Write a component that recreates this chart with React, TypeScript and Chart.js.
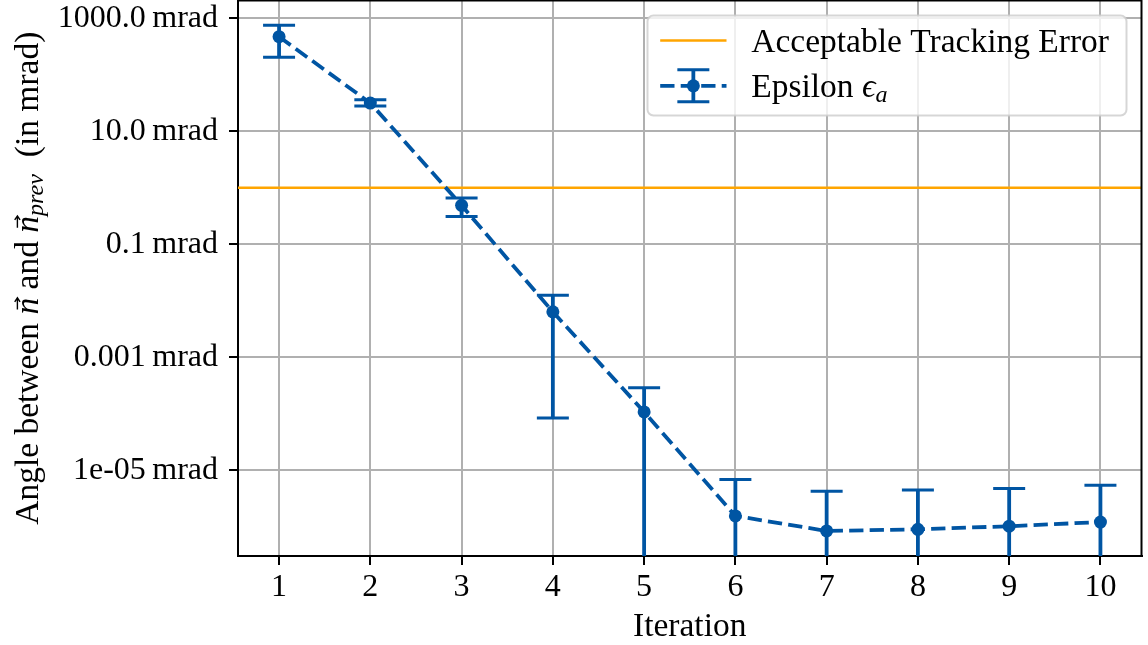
import React, { useEffect, useRef } from 'react';
import { Chart, registerables } from 'chart.js';

Chart.register(...registerables);

// ---- data ----
const iterations = [1, 2, 3, 4, 5, 6, 7, 8, 9, 10];
const epsilon = [472, 31.6, 0.488, 0.00636, 1.077e-4, 1.55e-6, 8.41e-7, 9.0e-7, 1.02e-6, 1.21e-6];
const errUpper = [751, 36.1, 0.656, 0.01256, 2.87e-4, 6.84e-6, 4.25e-6, 4.48e-6, 4.74e-6, 5.42e-6];
// 0 means the lower bound falls below zero (clipped at the axis bottom on a log scale)
const errLower = [204, 28.0, 0.311, 8.43e-5, 0, 0, 0, 0, 0, 0];
const thresholdValue = 1.0;
const yTicks = [1000, 10, 0.1, 0.001, 1e-5];
const yTickLabels = ['1000.0\u2009mrad', '10.0\u2009mrad', '0.1\u2009mrad', '0.001\u2009mrad', '1e-05\u2009mrad'];
const xRange = [0.55, 10.45];
const yRange = [3.03e-7, 2065];
const legendLabels = ['Acceptable Tracking Error', 'Epsilon '];

const BLUE = '#0055a3';
const ORANGE = '#ffa500';
const GRID = '#b0b0b0';
const FAMILY = '"Liberation Serif", "DejaVu Serif", serif';
const FS_TICK = 32;
const FS = 33.5;
const SHIFT = 6; // canvas is shifted up by this many px (Chart.js reserves room for point radius)
const W = 1148;
const H = 645 + SHIFT;

type Seg = { text: string; italic?: boolean; sub?: boolean; arrow?: boolean };

function drawRich(ctx: CanvasRenderingContext2D, segs: Seg[], x0: number, baseline: number, size: number, center: boolean) {
  const fontFor = (s: Seg) => `${s.italic ? 'italic ' : ''}${s.sub ? size * 0.72 : size}px ${FAMILY}`;
  const widths = segs.map((s) => {
    ctx.font = fontFor(s);
    return ctx.measureText(s.text).width;
  });
  const total = widths.reduce((a, b) => a + b, 0);
  let x = center ? x0 - total / 2 : x0;
  ctx.textAlign = 'left';
  ctx.textBaseline = 'alphabetic';
  segs.forEach((s, i) => {
    ctx.font = fontFor(s);
    ctx.fillText(s.text, x, baseline + (s.sub ? size * 0.16 : 0));
    if (s.arrow) {
      const w = widths[i];
      const ax0 = x + w * 0.3;
      const ax1 = x + w * 1.0;
      const ay = baseline - size * 0.6;
      ctx.save();
      ctx.strokeStyle = ctx.fillStyle as string;
      ctx.lineWidth = 1.4;
      ctx.beginPath();
      ctx.moveTo(ax0, ay);
      ctx.lineTo(ax1, ay);
      ctx.moveTo(ax1 - size * 0.12, ay - size * 0.08);
      ctx.lineTo(ax1, ay);
      ctx.lineTo(ax1 - size * 0.12, ay + size * 0.08);
      ctx.stroke();
      ctx.restore();
    }
    x += widths[i];
  });
}

const customPlugin = {
  id: 'custom',
  beforeDatasetsDraw(chart: any) {
    const { ctx, chartArea: ca, scales } = chart;
    const xs = scales.x;
    const ys = scales.y;
    ctx.save();
    ctx.beginPath();
    ctx.rect(ca.left, ca.top, ca.right - ca.left, ca.bottom - ca.top);
    ctx.clip();
    // threshold line
    const ty = ys.getPixelForValue(thresholdValue);
    ctx.strokeStyle = ORANGE;
    ctx.lineWidth = 2.6;
    ctx.beginPath();
    ctx.moveTo(ca.left, ty);
    ctx.lineTo(ca.right, ty);
    ctx.stroke();
    // error bars
    ctx.strokeStyle = BLUE;
    const cap = 16;
    iterations.forEach((it, i) => {
      const px = xs.getPixelForValue(it);
      const pTop = ys.getPixelForValue(errUpper[i]);
      const pBot = errLower[i] > 0 ? ys.getPixelForValue(errLower[i]) : ca.bottom + 10;
      ctx.lineWidth = 3.8;
      ctx.beginPath();
      ctx.moveTo(px, pTop);
      ctx.lineTo(px, pBot);
      ctx.stroke();
      ctx.lineWidth = 3;
      ctx.beginPath();
      ctx.moveTo(px - cap, pTop);
      ctx.lineTo(px + cap, pTop);
      if (errLower[i] > 0) {
        ctx.moveTo(px - cap, pBot);
        ctx.lineTo(px + cap, pBot);
      }
      ctx.stroke();
    });
    ctx.restore();
  },
  afterDatasetsDraw(chart: any) {
    const { ctx, chartArea: ca } = chart;
    ctx.save();
    ctx.strokeStyle = '#000';
    ctx.lineWidth = 2;
    ctx.beginPath();
    ctx.moveTo(ca.left, ca.top);
    ctx.lineTo(ca.right, ca.top);
    ctx.lineTo(ca.right, ca.bottom);
    ctx.stroke();
    ctx.restore();
  },
  afterDraw(chart: any) {
    const { ctx, chartArea: ca } = chart;
    ctx.save();
    // legend
    const bw = 479;
    const bh = 100;
    const bx = ca.right - 15 - bw;
    const by = ca.top + 15;
    ctx.beginPath();
    (ctx as any).roundRect(bx, by, bw, bh, 6);
    ctx.fillStyle = 'rgba(255,255,255,0.8)';
    ctx.fill();
    ctx.strokeStyle = 'rgba(204,204,204,0.8)';
    ctx.lineWidth = 2;
    ctx.stroke();
    const hx0 = bx + 12.7;
    const hx1 = bx + 79;
    const r1 = by + 25;
    ctx.strokeStyle = ORANGE;
    ctx.lineWidth = 2.6;
    ctx.beginPath();
    ctx.moveTo(hx0, r1);
    ctx.lineTo(hx1, r1);
    ctx.stroke();
    const r2 = by + 70.3;
    ctx.strokeStyle = BLUE;
    ctx.lineWidth = 3.8;
    ctx.setLineDash([14.3, 6.2]);
    ctx.beginPath();
    ctx.moveTo(hx0, r2);
    ctx.lineTo(hx1, r2);
    ctx.stroke();
    ctx.setLineDash([]);
    const mx = (hx0 + hx1) / 2;
    ctx.beginPath();
    ctx.moveTo(mx, r2 - 16);
    ctx.lineTo(mx, r2 + 16);
    ctx.stroke();
    ctx.lineWidth = 3;
    ctx.beginPath();
    ctx.moveTo(mx - 16, r2 - 16);
    ctx.lineTo(mx + 16, r2 - 16);
    ctx.moveTo(mx - 16, r2 + 16);
    ctx.lineTo(mx + 16, r2 + 16);
    ctx.stroke();
    ctx.fillStyle = BLUE;
    ctx.beginPath();
    ctx.arc(mx, r2, 6.5, 0, Math.PI * 2);
    ctx.fill();
    ctx.fillStyle = '#000';
    drawRich(ctx, [{ text: legendLabels[0] }], bx + 103.7, by + 36, FS, false);
    drawRich(ctx, [{ text: legendLabels[1] }, { text: '\u03f5', italic: true }, { text: 'a', italic: true, sub: true }], bx + 103.7, by + 81, FS, false);

    // x title
    drawRich(ctx, [{ text: 'Iteration' }], (ca.left + ca.right) / 2, ca.bottom + 79.5, FS, true);

    // y title
    ctx.translate(37.5, (ca.top + ca.bottom) / 2);
    ctx.rotate(-Math.PI / 2);
    drawRich(
      ctx,
      [
        { text: 'Angle between ' },
        { text: 'n', italic: true, arrow: true },
        { text: ' and ' },
        { text: 'n', italic: true, arrow: true },
        { text: 'prev', italic: true, sub: true },
        { text: '  (in mrad)' },
      ],
      0,
      0,
      FS,
      true
    );
    ctx.restore();
  },
};

export default function App() {
  const ref = useRef<HTMLCanvasElement | null>(null);
  useEffect(() => {
    document.body.style.margin = '0';
    document.body.style.overflow = 'hidden';
    const canvas = ref.current!;
    const font = { family: FAMILY, size: FS_TICK };
    const chart = new Chart(canvas, {
      type: 'line',
      data: {
        datasets: [
          {
            label: 'Epsilon',
            data: iterations.map((x, i) => ({ x, y: epsilon[i] })),
            borderColor: BLUE,
            backgroundColor: BLUE,
            borderWidth: 3.8,
            borderDash: [14.3, 6.2],
            pointRadius: 6.5,
            pointBackgroundColor: BLUE,
            pointBorderWidth: 0,
            tension: 0,
          },
        ],
      },
      options: {
        animation: false,
        responsive: false,
        devicePixelRatio: 1,
        layout: { padding: { left: 0, right: 6, top: 0, bottom: 0 } },
        plugins: { legend: { display: false }, tooltip: { enabled: false } },
        scales: {
          x: {
            type: 'linear',
            min: xRange[0],
            max: xRange[1],
            afterBuildTicks: (s: any) => {
              s.ticks = iterations.map((v) => ({ value: v }));
            },
            afterFit: (s: any) => {
              s.height = 89;
              s.paddingLeft = 0;
              s.paddingRight = 0;
            },
            grid: { color: GRID, lineWidth: 2, tickLength: 9, tickColor: '#000', tickWidth: 2 },
            border: { display: true, color: '#000', width: 2 },
            ticks: {
              font,
              color: '#000',
              padding: 3,
              maxRotation: 0,
              autoSkip: false,
              callback: (v: any) => String(v),
            },
          },
          y: {
            type: 'logarithmic',
            min: yRange[0],
            max: yRange[1],
            afterBuildTicks: (s: any) => {
              s.ticks = yTicks.map((v) => ({ value: v }));
            },
            afterFit: (s: any) => {
              s.width = 238;
              s.paddingTop = 0;
              s.paddingBottom = 0;
            },
            grid: { color: GRID, lineWidth: 2, tickLength: 9, tickColor: '#000', tickWidth: 2 },
            border: { display: true, color: '#000', width: 2 },
            ticks: {
              font,
              color: '#000',
              padding: 11,
              autoSkip: false,
              callback: (v: any) => {
                const idx = yTicks.findIndex((t) => Math.abs(Math.log10(t) - Math.log10(v)) < 1e-6);
                return idx >= 0 ? yTickLabels[idx] : '';
              },
            },
          },
        },
      },
      plugins: [customPlugin],
    } as any);
    return () => chart.destroy();
  }, []);
  return (
    <div style={{ width: W, height: 645, overflow: 'hidden' }}>
      <canvas ref={ref} width={W} height={H} style={{ display: 'block', width: W, height: H, marginTop: -SHIFT }} />
    </div>
  );
}
